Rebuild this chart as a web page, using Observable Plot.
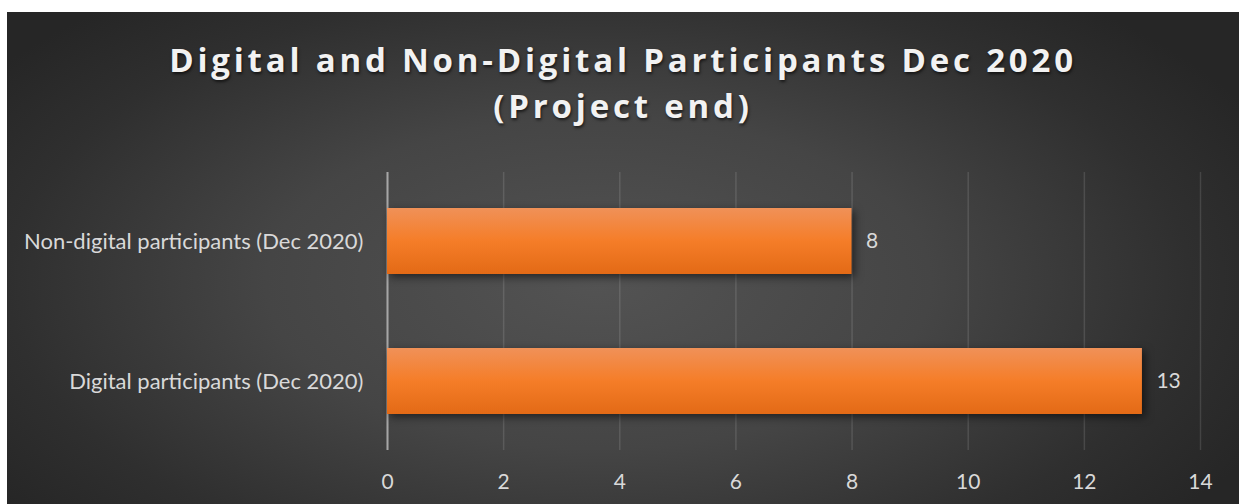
<!DOCTYPE html>
<html>
<head>
<meta charset="utf-8">
<script src="https://cdn.jsdelivr.net/npm/d3@7"></script>
<script src="https://cdn.jsdelivr.net/npm/@observablehq/plot@0.6"></script>
<style>
  html, body { margin: 0; padding: 0; background: #ffffff; }
  #frame {
    position: absolute; left: 7px; top: 12px; width: 1232px; height: 492px;
    background: radial-gradient(ellipse 60% 75% at 48% 55%, #535353 0%, #454545 45%, #2f2f2f 80%, #262626 100%);
    overflow: hidden;
  }
  #title {
    box-sizing: border-box; height: 138px; padding-top: 25px;
    text-align: center; color: #f2f2f2;
    font-family: "Open Sans", sans-serif; font-weight: 700; font-size: 33px;
    line-height: 46px; letter-spacing: 3.8px;
    text-shadow: 1px 2px 3px rgba(0,0,0,0.6);
    white-space: nowrap;
  }
  #chart svg { display: block; overflow: visible; }
</style>
</head>
<body>
<div id="frame">
  <div id="title">Digital and Non-Digital Participants Dec 2020<br>(Project end)</div>
  <div id="chart"></div>
</div>
<script>
const categories = ["Non-digital participants (Dec 2020)", "Digital participants (Dec 2020)"];
const values = [8, 13];
const xTicks = [0, 2, 4, 6, 8, 10, 12, 14];

const data = categories.map((c, i) => ({category: c, value: values[i]}));

const plot = Plot.plot({
  width: 1232,
  height: 354,
  marginLeft: 380,
  marginRight: 39,
  marginTop: 22,
  marginBottom: 54,
  style: {background: "transparent", color: "#d9d9d9", fontFamily: "Lato, 'Open Sans', sans-serif", fontSize: "22px", overflow: "visible"},
  x: {domain: [0, 14], ticks: xTicks, label: null},
  y: {domain: categories, paddingInner: 0.532, paddingOuter: 0.252, label: null},
  marks: [
    Plot.gridX(xTicks, {stroke: "#ffffff", strokeOpacity: 0.12, strokeWidth: 1.5}),
    Plot.ruleX([0], {stroke: "#a6a6a6", strokeWidth: 2}),
    Plot.barX(data, {x: "value", y: "category", fill: "url(#barGrad)"}),
    Plot.text(data, {x: "value", y: "category", text: d => String(d.value), dx: 14, textAnchor: "start", fill: "#d9d9d9", fontSize: 21}),
    Plot.axisX({ticks: xTicks, tickSize: 0, tickPadding: 24, fontSize: 21, fill: "#d9d9d9", label: null}),
    Plot.axisY({tickSize: 0, tickPadding: 24, fontSize: 22, fill: "#d9d9d9", label: null})
  ]
});

const svg = d3.select(plot);
svg.insert("defs", ":first-child").html(`
  <linearGradient id="barGrad" x1="0" y1="0" x2="0" y2="1">
    <stop offset="0" stop-color="#f09158"/>
    <stop offset="0.5" stop-color="#f57d28"/>
    <stop offset="1" stop-color="#e36a16"/>
  </linearGradient>`);
svg.selectAll('g[aria-label="bar"]').style("filter", "drop-shadow(3px 3px 4px rgba(0,0,0,0.55))");

document.getElementById("chart").appendChild(plot);
</script>
</body>
</html>
